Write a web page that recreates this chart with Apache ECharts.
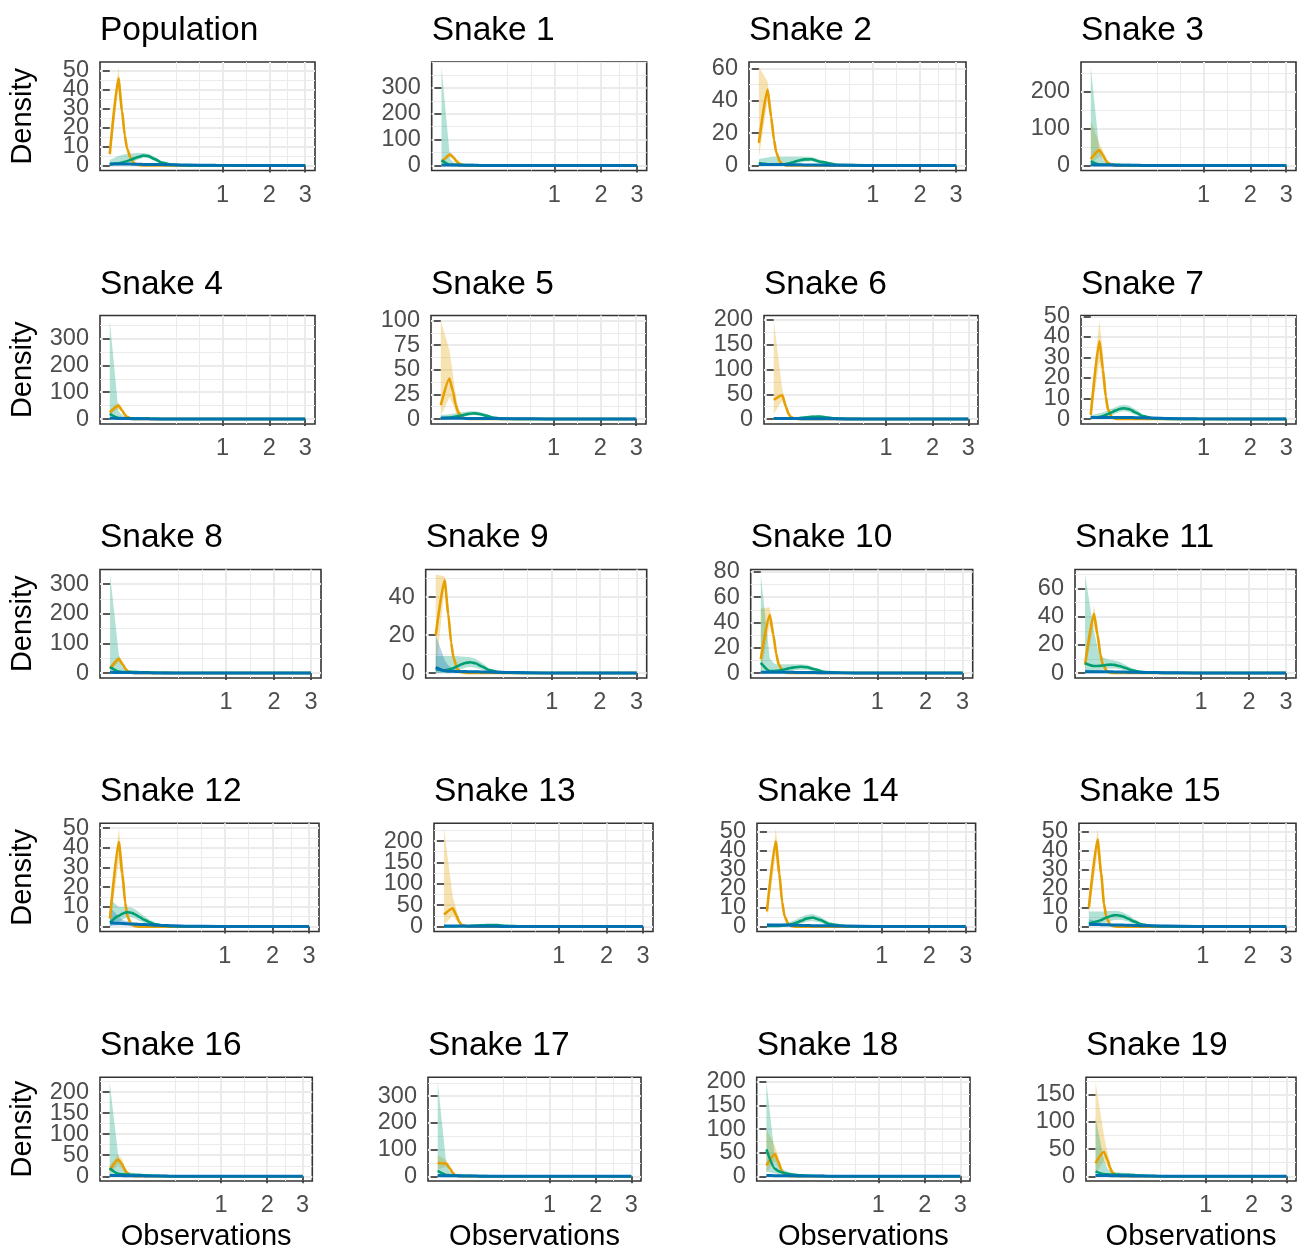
<!DOCTYPE html>
<html><head><meta charset="utf-8">
<script src="https://cdn.jsdelivr.net/npm/echarts@6/dist/echarts.min.js"></script>
<style>html,body{margin:0;padding:0;background:#fff}#c{width:1298px;height:1252px}</style>
</head><body><div id="c"></div>
<script>
const TITLES = ['Population','Snake 1','Snake 2','Snake 3','Snake 4','Snake 5','Snake 6','Snake 7','Snake 8','Snake 9',
  'Snake 10','Snake 11','Snake 12','Snake 13','Snake 14','Snake 15','Snake 16','Snake 17','Snake 18','Snake 19'];
// density evaluation points (observations)
const OBS = [0,0.00587,0.01174,0.01761,0.02348,0.03523,0.04697,0.06458,0.08806,0.1174,0.1585,0.2114,0.2935,0.4697,0.8806,3];
const X_TICKS = [1,2,3];
const Y_TICKS = [
  [0,10,20,30,40,50],[0,100,200,300],[0,20,40,60],[0,100,200],
  [0,100,200,300],[0,25,50,75,100],[0,50,100,150,200],[0,10,20,30,40,50],
  [0,100,200,300],[0,20,40],[0,20,40,60,80],[0,20,40,60],
  [0,10,20,30,40,50],[0,50,100,150,200],[0,10,20,30,40,50],[0,10,20,30,40,50],
  [0,50,100,150,200],[0,100,200,300],[0,50,100,150,200],[0,50,100,150]
];
const ORANGE_MEAN = [
  [6,46,29,16,9,3.5,1.2,0.3,0,0,0,0,0,0,0,0],
  [13,43,30,17,9,2.5,0.8,0.2,0,0,0,0,0,0,0,0],
  [14,47,30,16,8,2,0.5,0,0,0,0,0,0,0,0,0],
  [18,42,28,14,7,2,0.5,0,0,0,0,0,0,0,0,0],
  [25,50,33,17,8,2,0.5,0.1,0,0,0,0,0,0,0,0],
  [14,41,28,14,7,2,0.5,0.1,0,0,0,0,0,0,0,0],
  [39,48,25,10,4,1,0.2,0,0,0,0,0,0,0,0,0],
  [2,38,24,11,4.5,1,0.2,0,0,0,0,0,0,0,0,0],
  [15,48,30,14,6,1.5,0.3,0,0,0,0,0,0,0,0,0],
  [20,49,31,16,8,2,0.5,0.1,0,0,0,0,0,0,0,0],
  [11,46,30,15,7,1.5,0.3,0,0,0,0,0,0,0,0,0],
  [6,42,27,13,6,1.3,0.3,0,0,0,0,0,0,0,0,0],
  [4,43,27,12,5,1,0.2,0,0,0,0,0,0,0,0,0],
  [28,43,26,11,4,0.8,0.1,0,0,0,0,0,0,0,0,0],
  [8,45,28,13,5.5,1.2,0.2,0,0,0,0,0,0,0,0,0],
  [10,46,28,12,5,1,0.2,0,0,0,0,0,0,0,0,0],
  [14,40,30,17,9,2.5,0.6,0.1,0,0,0,0,0,0,0,0],
  [50,48,30,14,6,1.5,0.3,0,0,0,0,0,0,0,0,0],
  [23,47,30,14,6,1.5,0.3,0,0,0,0,0,0,0,0,0],
  [24,45,30,15,7,1.8,0.4,0.1,0,0,0,0,0,0,0,0]
];
const ORANGE_LOW = [
  [4,40,25,13,7,2.7,0.9,0.2,0,0,0,0,0,0,0,0],
  [8,35,23,12,6,1.5,0.4,0.1,0,0,0,0,0,0,0,0],
  [5,40,24,12,6,1.5,0.3,0,0,0,0,0,0,0,0,0],
  [3,25,16,8,4,1,0.2,0,0,0,0,0,0,0,0,0],
  [15,38,25,12,5,1.2,0.3,0,0,0,0,0,0,0,0,0],
  [3,22,15,7,3,0.8,0.2,0,0,0,0,0,0,0,0,0],
  [10,38,18,6,2,0.5,0,0,0,0,0,0,0,0,0,0],
  [0,28,17,7,2.5,0.5,0,0,0,0,0,0,0,0,0,0],
  [8,38,22,10,4,1,0.2,0,0,0,0,0,0,0,0,0],
  [0,45,27,13,6,1.5,0.3,0,0,0,0,0,0,0,0,0],
  [0,38,24,11,5,1,0.2,0,0,0,0,0,0,0,0,0],
  [2,34,21,10,4,0.8,0.2,0,0,0,0,0,0,0,0,0],
  [1,33,20,8,3,0.5,0.1,0,0,0,0,0,0,0,0,0],
  [5,25,15,6,2,0.4,0,0,0,0,0,0,0,0,0,0],
  [5,38,22,10,4,0.8,0.1,0,0,0,0,0,0,0,0,0],
  [6,39,22,9,3.5,0.6,0.1,0,0,0,0,0,0,0,0,0],
  [6,28,19,10,5,1.2,0.2,0,0,0,0,0,0,0,0,0],
  [25,36,22,10,4,1,0.2,0,0,0,0,0,0,0,0,0],
  [8,32,20,9,3.5,0.8,0.1,0,0,0,0,0,0,0,0,0],
  [5,28,18,8,3.5,0.8,0.1,0,0,0,0,0,0,0,0,0]
];
const ORANGE_HIGH = [
  [8,52,34,19,11,4.5,1.6,0.5,0.1,0,0,0,0,0,0,0],
  [20,52,38,22,12,4,1.2,0.3,0,0,0,0,0,0,0,0],
  [61,52,35,20,10,3,0.8,0.1,0,0,0,0,0,0,0,0],
  [120,60,40,22,12,4,1,0.2,0,0,0,0,0,0,0,0],
  [35,62,42,23,11,3,0.8,0.2,0,0,0,0,0,0,0,0],
  [100,70,45,25,12,4,1,0.2,0,0,0,0,0,0,0,0],
  [199,60,33,15,6,1.5,0.3,0,0,0,0,0,0,0,0,0],
  [8,48,32,16,7,1.8,0.4,0,0,0,0,0,0,0,0,0],
  [25,58,38,19,8,2,0.5,0,0,0,0,0,0,0,0,0],
  [52,51,36,19,10,3,0.8,0.2,0,0,0,0,0,0,0,0],
  [51,52,36,19,9,2.5,0.5,0.1,0,0,0,0,0,0,0,0],
  [10,48,33,17,8,2,0.5,0.1,0,0,0,0,0,0,0,0],
  [8,50,34,16,7,1.5,0.3,0,0,0,0,0,0,0,0,0],
  [230,70,40,18,7,1.5,0.3,0,0,0,0,0,0,0,0,0],
  [10,52,35,17,7.5,1.8,0.3,0,0,0,0,0,0,0,0,0],
  [14,52,34,16,7,1.5,0.3,0,0,0,0,0,0,0,0,0],
  [25,52,42,25,14,4,1,0.2,0,0,0,0,0,0,0,0],
  [80,60,38,18,8,2,0.4,0,0,0,0,0,0,0,0,0],
  [100,65,40,20,9,2.5,0.5,0.1,0,0,0,0,0,0,0,0],
  [173,75,45,24,11,3,0.7,0.1,0,0,0,0,0,0,0,0]
];
const GREEN_MEAN = [
  [0.5,1.2,1.6,2,2.4,3.1,3.8,4.6,5.3,5,3.4,1.6,0.5,0.1,0,0],
  [20,3,2.5,2.5,2.5,2.3,2,1.7,1.4,1,0.6,0.3,0.1,0,0,0],
  [1.5,0.8,0.6,0.5,0.5,0.6,0.8,1.2,2,3,3.8,3.9,2.3,0.5,0,0],
  [12,3,2.5,2.5,2.5,2.3,2.1,1.8,1.5,1.2,0.8,0.4,0.15,0,0,0],
  [19,4,3,3,3,3,2.8,2.5,2,1.5,1,0.5,0.2,0,0,0],
  [1,1.5,2,2.5,3,3.8,4.6,5.4,5.8,5.2,3.5,1.6,0.5,0.1,0,0],
  [1,0.8,0.8,0.9,1,1.3,1.8,2.6,3.6,4.6,5,3.8,1.6,0.3,0,0],
  [0.5,1,1.5,2,2.5,3.3,4.1,4.9,5.3,4.8,3.2,1.5,0.4,0.1,0,0],
  [20,5,3.5,3.5,3.5,3.5,3.3,3,2.5,2,1.3,0.7,0.3,0.05,0,0],
  [2,1.5,1.8,2.2,2.7,3.6,4.5,5.3,5.7,5.2,3.5,1.6,0.5,0.1,0,0],
  [8,1.5,1.5,1.8,2,2.6,3.2,4,4.6,5,4.6,3,1,0.2,0,0],
  [7,5,5,5.2,5.4,5.8,6,5.8,5,3.8,2.2,1,0.3,0.05,0,0],
  [2,5.5,6.5,7.1,7.3,7,6.3,5,3.5,2.2,1.1,0.5,0.15,0.02,0,0],
  [0.5,0.5,0.6,0.7,0.8,1,1.3,1.8,2.5,3.2,3.8,3.3,1.8,0.4,0,0],
  [0.3,0.3,0.4,0.5,0.6,0.9,1.3,2,3,4.2,4.8,3.6,1.4,0.2,0,0],
  [1.5,2.8,3.5,4.2,4.8,5.5,5.9,6,5.5,4.3,2.6,1.2,0.4,0.05,0,0],
  [19,6,5,4.5,4.2,3.8,3.4,3,2.4,1.8,1.2,0.6,0.2,0.05,0,0],
  [20,5,4,3.5,3,2.6,2.2,1.8,1.4,1,0.6,0.3,0.1,0,0,0],
  [57,16,11,9,7.5,5.5,4.3,3.2,2.3,1.6,1,0.5,0.2,0.05,0,0],
  [9,4,3.5,3.3,3.2,3.1,3,2.8,2.5,2.1,1.5,0.8,0.3,0.05,0,0]
];
const GREEN_LOW = [
  [0,0.2,0.4,0.6,0.9,1.5,2.2,3.2,4.1,3.9,2.4,1,0.3,0.05,0,0],
  [2,0.5,0.6,0.7,0.7,0.6,0.5,0.4,0.3,0.2,0.1,0,0,0,0,0],
  [0,0,0,0,0,0,0.1,0.3,0.8,1.6,2.4,2.6,1.3,0.2,0,0],
  [1,0.5,0.5,0.5,0.5,0.5,0.4,0.4,0.3,0.2,0.1,0.05,0,0,0,0],
  [1,0.8,0.8,0.8,0.8,0.8,0.7,0.6,0.5,0.4,0.2,0.1,0,0,0,0],
  [0,0.2,0.5,0.8,1.1,1.8,2.6,3.5,4,3.5,2,0.8,0.2,0,0,0],
  [0,0,0,0.1,0.2,0.4,0.7,1.2,2,2.8,3,2,0.7,0.1,0,0],
  [0,0.2,0.5,0.8,1.1,1.8,2.6,3.4,3.8,3.3,2,0.8,0.2,0,0,0],
  [1,0.5,0.6,0.7,0.8,0.8,0.8,0.7,0.6,0.5,0.3,0.1,0,0,0,0],
  [0,0.1,0.2,0.4,0.7,1.2,2,2.8,3.2,2.8,1.8,0.7,0.2,0,0,0],
  [0,0,0.1,0.2,0.3,0.6,1,1.6,2.3,2.7,2.5,1.5,0.4,0.05,0,0],
  [0,1,1.5,2,2.4,2.9,3.2,3.2,2.8,2,1.1,0.4,0.1,0,0,0],
  [0,2.5,3.5,4.4,4.8,4.7,4.1,3,1.9,1.1,0.5,0.2,0.05,0,0,0],
  [0,0,0,0.1,0.1,0.2,0.3,0.6,1,1.5,1.9,1.6,0.7,0.1,0,0],
  [0,0,0,0,0.1,0.2,0.4,0.8,1.5,2.4,3,2.2,0.7,0.1,0,0],
  [0,0.8,1.2,1.7,2.2,2.8,3.3,3.6,3.4,2.6,1.4,0.6,0.2,0,0,0],
  [1,0.8,1,1,1,0.9,0.8,0.7,0.5,0.4,0.2,0.1,0,0,0,0],
  [1,0.5,0.6,0.6,0.6,0.5,0.5,0.4,0.3,0.2,0.1,0.05,0,0,0,0],
  [10,6,5,4,3.5,2.8,2.2,1.6,1.1,0.7,0.4,0.2,0.05,0,0,0],
  [0.5,0.5,0.6,0.7,0.8,0.9,1,1,0.9,0.8,0.5,0.3,0.1,0,0,0]
];
const GREEN_HIGH = [
  [3,5,5.6,6,6.2,6.4,6.5,6.6,6.6,6.2,4.6,2.4,0.9,0.2,0,0],
  [381,25,12,9,7,5,4,3,2,1.5,1,0.6,0.3,0.1,0,0],
  [4,5,5.5,5.6,5.6,5.6,5.6,5.6,5.6,5.6,5.6,5.4,3.5,1,0.1,0],
  [268,40,15,10,8,6,5,4,3.5,3,2,1.2,0.5,0.1,0,0],
  [367,30,15,11,9,8,7,6,5,4,2.5,1.3,0.5,0.1,0,0],
  [4,5,5.5,6,6.5,7,7.5,8,8,7.5,5.5,2.8,1,0.2,0,0],
  [4,3,3,3.2,3.5,4,4.8,5.8,6.8,7.5,7.5,6,2.8,0.6,0,0],
  [2,2.8,3.3,3.8,4.3,5,5.8,6.6,7,6.5,4.6,2.3,0.7,0.15,0,0],
  [333,60,20,12,10,9,8,7,6,5,3,1.6,0.6,0.1,0,0],
  [9,9,9,9,9,9,8.8,8.6,8.4,7.6,5.5,2.6,0.9,0.2,0,0],
  [78,12,8,7,7,7,7,7,7,7,6.5,4.5,1.8,0.4,0,0],
  [70,30,18,13,11,10,9.5,9,8,6,3.6,1.7,0.5,0.1,0,0],
  [14,10,10,10,10,9.6,8.8,7.3,5.4,3.6,2,1,0.3,0.05,0,0],
  [4,3,3,3,3.2,3.5,4,4.6,5.3,5.9,6.2,5.5,3.2,0.8,0.05,0],
  [1.5,1.2,1.3,1.5,1.7,2.2,2.8,3.8,5,6.2,6.6,5.3,2.4,0.4,0,0],
  [8,8,8,8,8.2,8.3,8.3,8.2,7.6,6.2,4,2,0.7,0.1,0,0],
  [224,50,20,14,11,9,8,7,6,4.5,3,1.5,0.5,0.1,0,0],
  [353,50,18,12,9,7,6,5,4,3,2,1,0.3,0.05,0,0],
  [200,40,25,18,14,10,8,6,4.5,3.2,2,1,0.4,0.1,0,0],
  [107,30,14,10,8.5,7.5,7,6.5,6,5,3.5,2,0.7,0.1,0,0]
];
const BLUE_MEAN = [
  [0.8,0.8,0.8,0.8,0.8,0.8,0.7,0.7,0.6,0.6,0.5,0.5,0.4,0.3,0.15,0.02],
  [2,2,2,1.8,1.7,1.5,1.3,1.1,0.9,0.7,0.5,0.3,0.2,0.1,0.02,0],
  [0.6,0.6,0.6,0.6,0.6,0.6,0.6,0.5,0.5,0.5,0.4,0.4,0.3,0.2,0.1,0.01],
  [2,1.8,1.6,1.5,1.4,1.3,1.2,1.1,1,0.9,0.7,0.5,0.3,0.15,0.05,0],
  [3,2.5,2.2,2,1.8,1.6,1.4,1.2,1,0.8,0.6,0.4,0.25,0.1,0.03,0],
  [0.8,0.8,0.8,0.8,0.8,0.8,0.7,0.7,0.6,0.6,0.5,0.5,0.4,0.3,0.1,0.01],
  [1,1,1,1,1,0.9,0.9,0.8,0.8,0.7,0.6,0.5,0.4,0.25,0.1,0.01],
  [0.8,0.8,0.8,0.8,0.8,0.8,0.8,0.8,0.8,0.8,0.7,0.6,0.5,0.3,0.1,0.01],
  [2.5,2.2,2,1.8,1.7,1.5,1.3,1.1,0.9,0.7,0.5,0.35,0.2,0.1,0.03,0],
  [3,1.2,1,0.9,0.9,0.8,0.8,0.8,0.7,0.7,0.6,0.5,0.4,0.3,0.1,0.01],
  [0.6,0.6,0.6,0.6,0.6,0.6,0.6,0.6,0.5,0.5,0.5,0.4,0.3,0.2,0.1,0.01],
  [1,1,1,1,1,0.9,0.9,0.8,0.8,0.7,0.6,0.5,0.4,0.25,0.1,0.01],
  [2,1.7,1.6,1.5,1.4,1.3,1.2,1.1,1,0.9,0.7,0.6,0.4,0.2,0.05,0],
  [1.5,1.4,1.3,1.2,1.2,1.1,1,0.9,0.8,0.7,0.6,0.5,0.3,0.15,0.05,0],
  [0.8,0.8,0.8,0.8,0.8,0.8,0.7,0.7,0.6,0.6,0.5,0.5,0.4,0.3,0.1,0.01],
  [1.2,1.1,1,1,1,0.9,0.9,0.8,0.8,0.7,0.6,0.5,0.4,0.25,0.1,0.01],
  [2,1.8,1.6,1.5,1.4,1.3,1.2,1.1,1,0.9,0.7,0.5,0.3,0.15,0.05,0],
  [2.5,2.2,2,1.8,1.7,1.5,1.3,1.1,0.9,0.7,0.5,0.35,0.2,0.1,0.03,0],
  [1.5,1.4,1.3,1.2,1.2,1.1,1,0.9,0.8,0.7,0.6,0.5,0.3,0.15,0.05,0],
  [1.5,1.4,1.3,1.2,1.2,1.1,1,0.9,0.8,0.7,0.6,0.5,0.3,0.15,0.05,0]
];
const BLUE_LOW = [
  [0.3,0.4,0.4,0.4,0.4,0.4,0.35,0.3,0.3,0.25,0.2,0.2,0.15,0.1,0.05,0],
  [0.5,0.7,0.8,0.8,0.7,0.6,0.5,0.4,0.3,0.2,0.15,0.1,0.05,0.02,0,0],
  [0.2,0.2,0.2,0.2,0.2,0.2,0.2,0.2,0.2,0.2,0.15,0.15,0.1,0.05,0.02,0],
  [0.5,0.6,0.6,0.6,0.6,0.5,0.5,0.4,0.4,0.3,0.2,0.15,0.1,0.05,0.01,0],
  [0.8,0.9,0.9,0.8,0.7,0.6,0.5,0.4,0.35,0.3,0.2,0.15,0.1,0.03,0.01,0],
  [0.3,0.3,0.3,0.3,0.3,0.3,0.3,0.3,0.25,0.25,0.2,0.2,0.15,0.1,0.03,0],
  [0.4,0.4,0.4,0.4,0.4,0.35,0.35,0.3,0.3,0.25,0.2,0.2,0.15,0.1,0.03,0],
  [0.3,0.3,0.3,0.3,0.3,0.3,0.3,0.3,0.3,0.3,0.25,0.2,0.2,0.1,0.03,0],
  [0.7,0.8,0.8,0.7,0.7,0.6,0.5,0.4,0.3,0.25,0.2,0.1,0.05,0.03,0.01,0],
  [0.2,0.3,0.3,0.3,0.3,0.3,0.3,0.3,0.3,0.2,0.2,0.2,0.1,0.1,0.03,0],
  [0.2,0.2,0.2,0.2,0.2,0.2,0.2,0.2,0.2,0.2,0.2,0.15,0.1,0.05,0.02,0],
  [0.4,0.4,0.4,0.4,0.4,0.35,0.35,0.3,0.3,0.25,0.2,0.2,0.15,0.1,0.03,0],
  [0.3,0.5,0.6,0.6,0.6,0.6,0.5,0.5,0.5,0.4,0.3,0.2,0.1,0.05,0,0],
  [0.5,0.5,0.5,0.5,0.5,0.4,0.4,0.35,0.3,0.25,0.2,0.2,0.1,0.05,0.01,0],
  [0.3,0.3,0.3,0.3,0.3,0.3,0.3,0.3,0.25,0.25,0.2,0.2,0.15,0.1,0.03,0],
  [0.3,0.4,0.4,0.4,0.4,0.4,0.4,0.3,0.3,0.3,0.2,0.2,0.1,0.05,0.02,0],
  [0.5,0.6,0.6,0.6,0.6,0.5,0.5,0.4,0.4,0.3,0.2,0.15,0.1,0.05,0.01,0],
  [0.7,0.8,0.8,0.7,0.7,0.6,0.5,0.4,0.3,0.25,0.2,0.1,0.05,0.03,0.01,0],
  [0.5,0.5,0.5,0.5,0.5,0.4,0.4,0.35,0.3,0.25,0.2,0.2,0.1,0.05,0.01,0],
  [0.5,0.5,0.5,0.5,0.5,0.4,0.4,0.35,0.3,0.25,0.2,0.2,0.1,0.05,0.01,0]
];
const BLUE_HIGH = [
  [1.6,1.4,1.3,1.3,1.3,1.2,1.1,1.1,1,0.9,0.8,0.7,0.6,0.45,0.25,0.05],
  [6,5,4.5,4,3.5,3,2.5,2,1.6,1.2,0.9,0.6,0.3,0.15,0.05,0],
  [1.5,1.2,1.1,1,1,1,0.9,0.9,0.8,0.8,0.7,0.6,0.5,0.3,0.15,0.02],
  [6,4,3.2,2.8,2.5,2.2,2,1.8,1.6,1.4,1.1,0.8,0.5,0.25,0.08,0.01],
  [8,5,4,3.5,3,2.6,2.3,2,1.7,1.4,1,0.7,0.4,0.2,0.05,0],
  [1.6,1.4,1.3,1.3,1.3,1.2,1.1,1.1,1,0.9,0.8,0.7,0.6,0.45,0.2,0.03],
  [2.5,2,1.8,1.7,1.6,1.5,1.4,1.3,1.2,1.1,1,0.9,0.7,0.45,0.2,0.03],
  [1.6,1.4,1.3,1.3,1.3,1.3,1.3,1.3,1.3,1.3,1.1,1,0.8,0.5,0.2,0.03],
  [7,5,4.2,3.6,3.2,2.7,2.3,1.9,1.5,1.2,0.9,0.6,0.35,0.15,0.05,0],
  [20,7,4,2.8,2.2,1.8,1.6,1.4,1.2,1.1,0.9,0.8,0.6,0.4,0.15,0.02],
  [1.5,1.2,1.1,1,1,1,1,1,0.9,0.9,0.8,0.7,0.5,0.35,0.15,0.02],
  [2.5,2,1.8,1.7,1.6,1.5,1.4,1.3,1.2,1.1,1,0.9,0.7,0.45,0.2,0.03],
  [10,5,3.5,3,2.7,2.4,2.2,2,1.8,1.6,1.3,1,0.7,0.3,0.1,0],
  [4,3,2.6,2.4,2.2,2,1.8,1.6,1.4,1.2,1,0.8,0.5,0.25,0.08,0.01],
  [1.6,1.4,1.3,1.3,1.3,1.2,1.1,1.1,1,0.9,0.8,0.7,0.6,0.45,0.2,0.03],
  [4,2.5,2,1.8,1.7,1.6,1.5,1.4,1.3,1.2,1,0.9,0.7,0.45,0.2,0.03],
  [6,4,3.2,2.8,2.5,2.2,2,1.8,1.6,1.4,1.1,0.8,0.5,0.25,0.08,0.01],
  [7,5,4.2,3.6,3.2,2.7,2.3,1.9,1.5,1.2,0.9,0.6,0.35,0.15,0.05,0],
  [4,3,2.6,2.4,2.2,2,1.8,1.6,1.4,1.2,1,0.8,0.5,0.25,0.08,0.01],
  [4,3,2.6,2.4,2.2,2,1.8,1.6,1.4,1.2,1,0.8,0.5,0.25,0.08,0.01]
];

// ---------- layout (pixels) ----------
const ROW_TB = [[62,170.5],[315.5,424],[569.5,678],[823.3,931.5],[1077.3,1185]];
const COL_LR = [
  [100,315],[431.7,646.7],[749,966],[1081,1296],
  [100,315],[431,646],[764,978],[1081,1296],
  [100,321],[425.7,646.7],[750.7,972.7],[1075,1296],
  [100,319],[434,653],[757,975.6],[1079,1296],
  [100,312.3],[428,641],[756.7,970],[1086,1296]
];
const FONT = '"Liberation Sans", Arial, Helvetica, sans-serif';
const COLORS = {orange:'#E69F00', green:'#009E73', blue:'#0072B2'};
const RIB_ALPHA = {orange:'rgba(230,159,0,0.3)', green:'rgba(0,158,115,0.3)', blue:'rgba(0,114,178,0.3)'};
const TICK_FS = 23.5, TITLE_FS = 33.5, AXIS_TITLE_FS = 29;

function minorBreaks(b, lo, hi) {
  const bd = b[1] - b[0];
  const bb = b.slice();
  if (lo < bb[0]) bb.unshift(bb[0] - bd);
  if (hi > bb[bb.length - 1]) bb.push(bb[bb.length - 1] + bd);
  const out = [];
  for (let k = 0; k < bb.length; k++) {
    out.push(bb[k]);
    if (k < bb.length - 1) out.push((bb[k] + bb[k + 1]) / 2);
  }
  return out.filter(v => v >= lo && v <= hi && !b.some(m => Math.abs(m - v) < 1e-9));
}

const xs = OBS.map(Math.sqrt);
const xRange = xs[xs.length - 1] - xs[0];
const X_MIN = xs[0] - 0.05 * xRange, X_MAX = xs[xs.length - 1] + 0.05 * xRange;
const X_MAJOR = X_TICKS.map(Math.sqrt);
const X_MINOR = minorBreaks(X_MAJOR, X_MIN, X_MAX);

const option = {animation:false, textStyle:{fontFamily:FONT}, title:[], grid:[], xAxis:[], yAxis:[], series:[]};

function ribbon(i, lo, hi, col) {
  return {
    type:'custom', xAxisIndex:2*i, yAxisIndex:3*i, silent:true, z:2, clip:true,
    data: OBS.map((x, j) => [Math.sqrt(x), lo[j], hi[j]]),
    encode:{x:0, y:[1,2]},
    renderItem(params, api) {
      if (params.dataIndexInside !== 0) return null;
      const n = params.dataInsideLength, top = [], bot = [];
      for (let j = 0; j < n; j++) {
        top.push(api.coord([api.value(0, j), api.value(2, j)]));
        bot.push(api.coord([api.value(0, j), api.value(1, j)]));
      }
      return {type:'polygon', shape:{points: top.concat(bot.reverse())}, style:{fill: RIB_ALPHA[col]}};
    }
  };
}
function line(i, vals, col, w) {
  return {
    type:'line', xAxisIndex:2*i, yAxisIndex:3*i, silent:true, z:3, symbol:'none', showSymbol:false,
    smooth:0.2, smoothMonotone:'x', clip:true,
    data: OBS.map((x, j) => [Math.sqrt(x), vals[j]]),
    lineStyle:{color:COLORS[col], width:w}, itemStyle:{color:COLORS[col]}
  };
}
const yLabelStyle = {fontSize:TICK_FS, color:'#4D4D4D', margin:11, fontFamily:FONT, showMinLabel:true, showMaxLabel:true};

TITLES.forEach((t, i) => {
  const r = Math.floor(i / 4), c = i % 4;
  const [L, R] = COL_LR[i], [T, B] = ROW_TB[r];
  const M = Math.max(...ORANGE_HIGH[i], ...GREEN_HIGH[i], ...BLUE_HIGH[i], ...ORANGE_MEAN[i], ...GREEN_MEAN[i], ...BLUE_MEAN[i]);
  const yMin = -0.05 * M, yMax = 1.05 * M;
  const yt = Y_TICKS[i];
  const yMinor = minorBreaks(yt, yMin, yMax);
  // labels split over two coincident axes so that ECharts does not drop neighbours of min/max labels
  const ytEven = yt.filter((_, k) => k % 2 === 0), ytOdd = yt.filter((_, k) => k % 2 === 1);

  option.title.push({text:t, left:L, top:16.7 + 253.7 * r - 3, padding:0,
    textStyle:{fontSize:TITLE_FS, fontWeight:'normal', color:'#000000', fontFamily:FONT}});
  option.grid.push({left:L, top:T, width:R - L, height:B - T, show:true, borderColor:'#333333', borderWidth:1.6, backgroundColor:'transparent'});

  option.xAxis.push({
    type:'value', gridIndex:i, min:X_MIN, max:X_MAX, position:'bottom',
    axisLine:{show:false},
    axisTick:{show:true, customValues:X_MAJOR, length:7, lineStyle:{color:'#333333', width:1.6}},
    axisLabel:{show:true, customValues:X_MAJOR, fontSize:TICK_FS, color:'#4D4D4D', margin:13, fontFamily:FONT,
      showMinLabel:true, showMaxLabel:true,
      formatter: v => String(Math.round(v * v))},
    splitLine:{show:true, lineStyle:{color:'#EBEBEB', width:2}},
    name: r === 4 ? 'Observations' : '', nameLocation:'middle', nameGap:41,
    nameTextStyle:{fontSize:AXIS_TITLE_FS, color:'#000000', fontFamily:FONT}
  });
  option.xAxis.push({
    type:'value', gridIndex:i, min:X_MIN, max:X_MAX, position:'top',
    axisLine:{show:false}, axisTick:{show:false, customValues:X_MINOR}, axisLabel:{show:false},
    splitLine:{show:true, lineStyle:{color:'#EBEBEB', width:1}}
  });
  option.yAxis.push({
    type:'value', gridIndex:i, min:yMin, max:yMax, position:'left',
    axisLine:{show:false},
    axisTick:{show:true, customValues:yt, length:7, lineStyle:{color:'#333333', width:1.6}},
    axisLabel:Object.assign({show:true, customValues:ytEven}, yLabelStyle),
    splitLine:{show:true, lineStyle:{color:'#EBEBEB', width:2}},
    name: c === 0 ? 'Density' : '', nameLocation:'middle', nameRotate:90, nameGap: L - 37,
    nameTextStyle:{fontSize:AXIS_TITLE_FS, color:'#000000', fontFamily:FONT}
  });
  option.yAxis.push({
    type:'value', gridIndex:i, min:yMin, max:yMax, position:'right',
    axisLine:{show:false}, axisTick:{show:false, customValues:yMinor}, axisLabel:{show:false},
    splitLine:{show:true, lineStyle:{color:'#EBEBEB', width:1}}
  });
  option.yAxis.push({
    type:'value', gridIndex:i, min:yMin, max:yMax, position:'left', offset:0,
    axisLine:{show:false}, axisTick:{show:false, customValues:ytOdd},
    axisLabel:Object.assign({show:ytOdd.length > 0, customValues:ytOdd.length ? ytOdd : [0]}, yLabelStyle),
    splitLine:{show:false}
  });

  option.series.push(ribbon(i, ORANGE_LOW[i], ORANGE_HIGH[i], 'orange'));
  option.series.push(ribbon(i, GREEN_LOW[i], GREEN_HIGH[i], 'green'));
  option.series.push(ribbon(i, BLUE_LOW[i], BLUE_HIGH[i], 'blue'));
  option.series.push(line(i, ORANGE_MEAN[i], 'orange', 2.6));
  option.series.push(line(i, GREEN_MEAN[i], 'green', 2.6));
  option.series.push(line(i, BLUE_MEAN[i], 'blue', 3));
});

const chart = echarts.init(document.getElementById('c'), null, {renderer:'canvas', width:1298, height:1252});
chart.setOption(option);
</script>
</body></html>
